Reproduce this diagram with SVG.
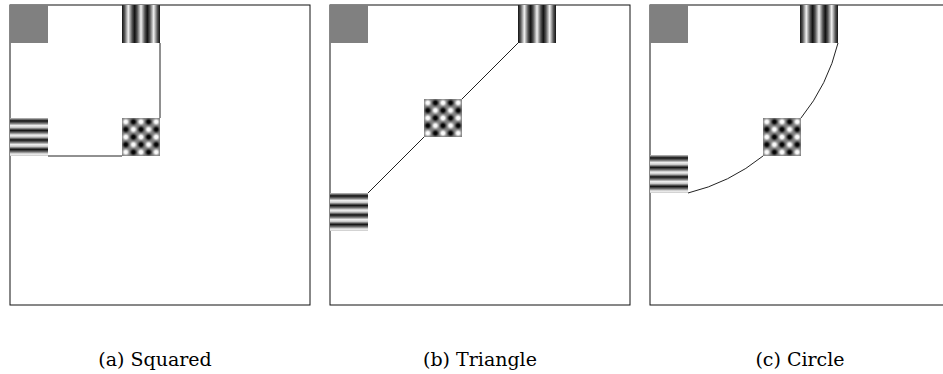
<svg xmlns="http://www.w3.org/2000/svg" width="943" height="374" viewBox="0 0 943 374">
<style>
.frame{fill:none;stroke:#111;stroke-width:1}
.conn{fill:none;stroke:#222;stroke-width:1}
.gray{fill:#808080}
.vs{fill:url(#vstripe)}
.hs{fill:url(#hstripe)}
.ck{fill:url(#checker)}
.cap{font-family:"DejaVu Serif","Liberation Serif",serif;font-size:19px;fill:#000;text-anchor:middle}
</style>
<defs>
<linearGradient id="vstripe" x1="0" y1="0" x2="0.3333" y2="0" spreadMethod="repeat">
<stop offset="0" stop-color="#111"/>
<stop offset="0.2" stop-color="#555"/>
<stop offset="0.5" stop-color="#f2f2f2"/>
<stop offset="0.8" stop-color="#555"/>
<stop offset="1" stop-color="#111"/>
</linearGradient>
<linearGradient id="hstripe" x1="0" y1="0" x2="0" y2="0.25" spreadMethod="repeat">
<stop offset="0" stop-color="#c8c8c8"/>
<stop offset="0.3" stop-color="#111"/>
<stop offset="0.55" stop-color="#707070"/>
<stop offset="0.8" stop-color="#f2f2f2"/>
<stop offset="1" stop-color="#c8c8c8"/>
</linearGradient>
<radialGradient id="wb">
<stop offset="0" stop-color="#ffffff"/>
<stop offset="0.35" stop-color="#f4f4f4"/>
<stop offset="1" stop-color="#808080" stop-opacity="0"/>
</radialGradient>
<radialGradient id="bb">
<stop offset="0" stop-color="#000000"/>
<stop offset="0.35" stop-color="#0c0c0c"/>
<stop offset="1" stop-color="#808080" stop-opacity="0"/>
</radialGradient>
<pattern id="checker" patternUnits="objectBoundingBox" patternContentUnits="objectBoundingBox" width="0.4" height="0.4">
<rect x="0" y="0" width="0.4" height="0.4" fill="#808080"/>
<circle cx="0.1" cy="0.1" r="0.13" fill="url(#wb)"/>
<circle cx="0.3" cy="0.3" r="0.13" fill="url(#wb)"/>
<circle cx="0.3" cy="0.1" r="0.13" fill="url(#bb)"/>
<circle cx="0.1" cy="0.3" r="0.13" fill="url(#bb)"/>
</pattern>
</defs>

<g id="frames">
<rect class="frame" x="10" y="5" width="300" height="300"/>
<rect class="frame" x="330" y="5" width="300" height="300"/>
<rect class="frame" x="650" y="5" width="300" height="300"/>
</g>

<g id="connectors">
<path class="conn" d="M160,43 V118"/>
<path class="conn" d="M48,156 H122"/>
<path class="conn" d="M368,193 L424,137"/>
<path class="conn" d="M462,99 L518,43"/>
<path class="conn" d="M688,193 A190,190 0 0 0 763,156"/>
<path class="conn" d="M801,118 A190,190 0 0 0 838,43"/>
</g>

<g id="a-gray"><rect class="gray" x="10" y="5" width="38" height="38"/></g>
<g id="a-vstripes"><rect class="vs" x="122" y="5" width="38" height="38"/></g>
<g id="a-hstripes"><rect class="hs" x="10" y="118" width="38" height="38"/></g>
<g id="a-checker"><rect class="ck" x="122" y="118" width="38" height="38"/></g>

<g id="b-gray"><rect class="gray" x="330" y="5" width="38" height="38"/></g>
<g id="b-vstripes"><rect class="vs" x="518" y="5" width="38" height="38"/></g>
<g id="b-checker"><rect class="ck" x="424" y="99" width="38" height="38"/></g>
<g id="b-hstripes"><rect class="hs" x="330" y="193" width="38" height="38"/></g>

<g id="c-gray"><rect class="gray" x="650" y="5" width="38" height="38"/></g>
<g id="c-vstripes"><rect class="vs" x="800" y="5" width="38" height="38"/></g>
<g id="c-checker"><rect class="ck" x="763" y="118" width="38" height="38"/></g>
<g id="c-hstripes"><rect class="hs" x="650" y="155" width="38" height="38"/></g>

<g id="captions">
<text class="cap" x="155" y="366">(a) Squared</text>
<text class="cap" x="480" y="366">(b) Triangle</text>
<text class="cap" x="800" y="366">(c) Circle</text>
</g>
</svg>
